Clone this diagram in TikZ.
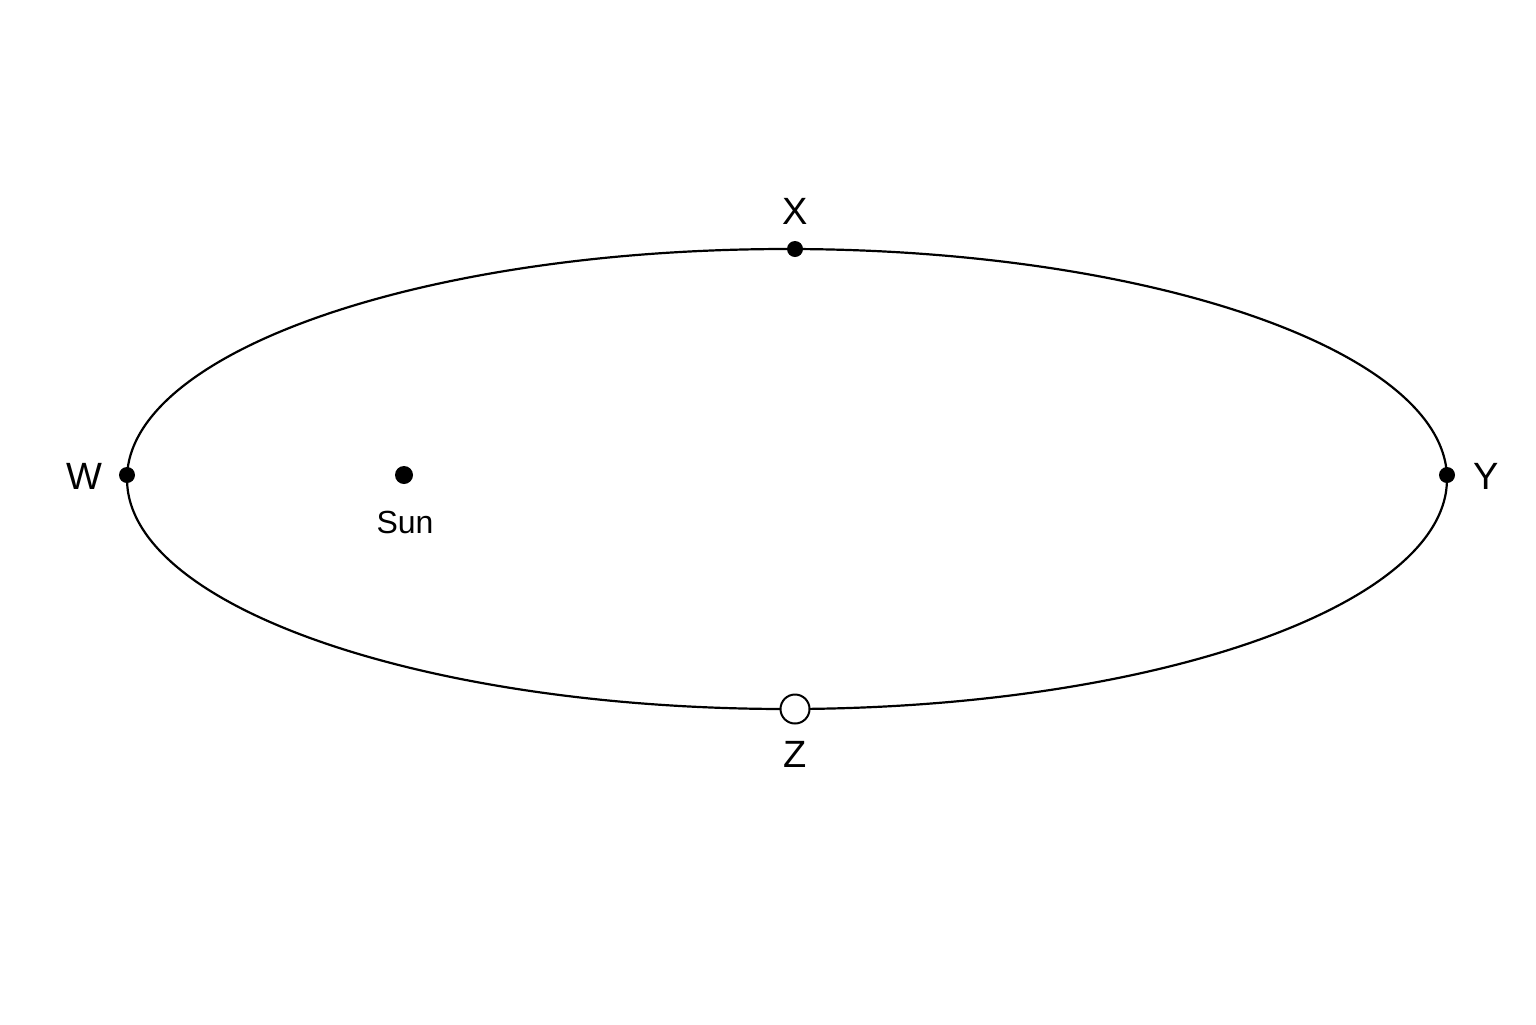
\documentclass[tikz,border=0pt]{standalone}
\usepackage{fontspec}
\setmainfont{Liberation Sans}
\begin{document}
\begin{tikzpicture}[x=0.5pt,y=-0.5pt,
  orbit/.style={line width=1.1pt,black},
  planet/.style={circle,fill=black,inner sep=0pt,minimum size=8pt},
  openplanet/.style={circle,draw=black,fill=white,line width=1pt,inner sep=0pt,minimum size=14.5pt},
  lbl/.style={font=\fontsize{19}{22}\selectfont,inner sep=0pt},
  sunlbl/.style={font=\fontsize{16}{19}\selectfont,inner sep=0pt}]
\useasboundingbox (0,0) rectangle (1536,1024);
\fill[white] (0,0) rectangle (1536,1024);
\coordinate (C) at (787,479);
\draw[orbit] (C) ellipse [x radius=330pt, y radius=115pt];
\node[planet] (X) at (795,249) {};
\node[planet] (W) at (127,475) {};
\node[planet] (Y) at (1447,475) {};
\node[planet,minimum size=9pt] (S) at (404,475) {};
\node[openplanet] (Z) at (795,709) {};
\node[lbl] (Xl) at (795,211) {X};
\node[lbl] (Wl) at (84,476) {W};
\node[lbl] (Yl) at (1486,476) {Y};
\node[lbl] (Zl) at (795,754) {Z};
\node[sunlbl] (Sl) at (405,522) {Sun};
\end{tikzpicture}
\end{document}
